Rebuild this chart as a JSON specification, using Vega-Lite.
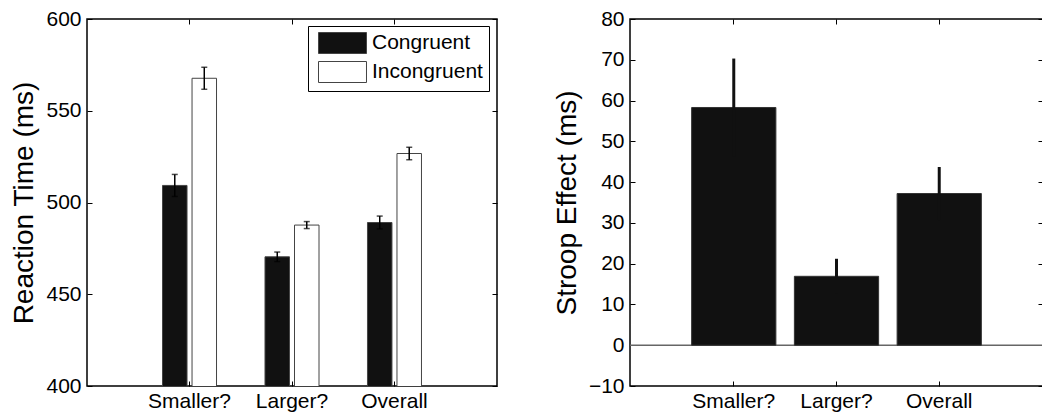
{
  "$schema": "https://vega.github.io/schema/vega-lite/v6.json",
  "background": "white",
  "padding": {"left": 10, "top": 7, "right": 0, "bottom": 0},
  "config": {
    "font": "Liberation Sans",
    "view": {"stroke": "black", "strokeWidth": 1.5},
    "axis": {
      "labelFont": "Liberation Sans", "labelFontSize": 21, "labelColor": "black",
      "titleFont": "Liberation Sans", "titleFontSize": 28, "titleFontWeight": "normal", "titleColor": "black",
      "domain": false, "grid": false, "tickColor": "black", "tickSize": -5, "tickWidth": 1,
      "labelPadding": 11, "titlePadding": 7
    },
    "axisX": {"labelPadding": 9},
    "concat": {"spacing": 53}
  },
  "resolve": {"scale": {"x": "independent", "y": "independent", "fill": "independent"}, "legend": {"fill": "independent"}},
  "hconcat": [
    {
      "width": 410,
      "height": 367,
      "data": {"values": [
        {"cond": "Smaller?", "type": "Congruent", "rt": 509.3, "lo": 503.3, "hi": 515.3},
        {"cond": "Smaller?", "type": "Incongruent", "rt": 567.7, "lo": 561.7, "hi": 573.7},
        {"cond": "Larger?", "type": "Congruent", "rt": 470.4, "lo": 467.8, "hi": 473.0},
        {"cond": "Larger?", "type": "Incongruent", "rt": 487.7, "lo": 485.8, "hi": 489.6},
        {"cond": "Overall", "type": "Congruent", "rt": 489.1, "lo": 485.6, "hi": 492.6},
        {"cond": "Overall", "type": "Incongruent", "rt": 526.7, "lo": 523.3, "hi": 530.1}
      ]},
      "layer": [
        {
          "mark": {"type": "bar", "stroke": "#444", "strokeWidth": 1, "clip": true},
          "encoding": {
            "x": {"field": "cond", "type": "nominal", "sort": null, "scale": {"paddingInner": 0.473, "paddingOuter": 0.737}, "axis": {"title": null, "labelAngle": 0}},
            "xOffset": {"field": "type", "type": "nominal", "scale": {"paddingInner": 0.17, "paddingOuter": 0}},
            "y": {"field": "rt", "type": "quantitative", "scale": {"domain": [400, 600], "zero": false, "nice": false}, "axis": {"title": "Reaction Time (ms)", "values": [400, 450, 500, 550, 600]}},
            "fill": {"field": "type", "type": "nominal", "scale": {"range": ["#111111", "white"]},
              "legend": {"orient": "none", "legendX": 221, "legendY": 7, "title": null, "strokeColor": "black", "fillColor": "white", "padding": 6,
                "symbolType": "M-1,-1H3.571V1H-1Z", "symbolSize": 441, "symbolStrokeColor": "#444", "symbolStrokeWidth": 1, "symbolOffset": 4,
                "labelOffset": 32, "labelFontSize": 21, "labelFont": "Liberation Sans", "labelColor": "black", "rowPadding": 3}}
          }
        },
        {
          "mark": {"type": "rule", "color": "black", "strokeWidth": 1.5},
          "encoding": {
            "x": {"field": "cond", "type": "nominal", "sort": null, "axis": {"orient": "top", "labels": false, "title": null}},
            "xOffset": {"field": "type", "type": "nominal"},
            "y": {"field": "lo", "type": "quantitative", "axis": {"orient": "right", "labels": false, "title": null, "values": [400, 450, 500, 550, 600]}},
            "y2": {"field": "hi"}
          }
        },
        {
          "mark": {"type": "tick", "color": "black", "thickness": 1.5, "size": 6},
          "encoding": {
            "x": {"field": "cond", "type": "nominal", "sort": null, "axis": null},
            "xOffset": {"field": "type", "type": "nominal"},
            "y": {"field": "lo", "type": "quantitative", "axis": null}
          }
        },
        {
          "mark": {"type": "tick", "color": "black", "thickness": 1.5, "size": 6},
          "encoding": {
            "x": {"field": "cond", "type": "nominal", "sort": null, "axis": null},
            "xOffset": {"field": "type", "type": "nominal"},
            "y": {"field": "hi", "type": "quantitative", "axis": null}
          }
        }
      ],
      "resolve": {"axis": {"x": "independent", "y": "independent"}}
    },
    {
      "width": 413,
      "height": 367,
      "data": {"values": [
        {"cond": "Smaller?", "effect": 58.3, "lo": 46.3, "hi": 70.3},
        {"cond": "Larger?", "effect": 16.9, "lo": 12.6, "hi": 21.2},
        {"cond": "Overall", "effect": 37.2, "lo": 30.7, "hi": 43.7}
      ]},
      "layer": [
        {
          "data": {"values": [{"z": 0}]},
          "mark": {"type": "rule", "color": "#666", "strokeWidth": 1.5},
          "encoding": {"y": {"field": "z", "type": "quantitative", "axis": null}}
        },
        {
          "mark": {"type": "bar", "color": "#111111", "stroke": "#333", "strokeWidth": 1},
          "encoding": {
            "x": {"field": "cond", "type": "nominal", "sort": null, "scale": {"paddingInner": 0.18, "paddingOuter": 0.6}, "axis": {"title": null, "labelAngle": 0}},
            "y": {"field": "effect", "type": "quantitative", "scale": {"domain": [-10, 80], "nice": false}, "axis": {"title": "Stroop Effect (ms)", "values": [-10, 0, 10, 20, 30, 40, 50, 60, 70, 80]}}
          }
        },
        {
          "mark": {"type": "rule", "color": "#111111", "strokeWidth": 3},
          "encoding": {
            "x": {"field": "cond", "type": "nominal", "sort": null, "axis": {"orient": "top", "labels": false, "title": null}},
            "y": {"field": "lo", "type": "quantitative", "axis": {"orient": "right", "labels": false, "title": null, "values": [-10, 0, 10, 20, 30, 40, 50, 60, 70, 80]}},
            "y2": {"field": "hi"}
          }
        }
      ],
      "resolve": {"axis": {"x": "independent", "y": "independent"}}
    }
  ]
}
